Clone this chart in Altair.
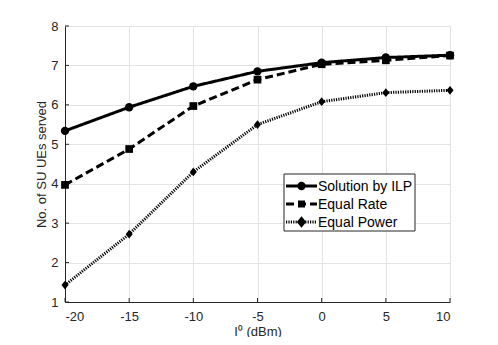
import altair as alt
import pandas as pd

x_vals = [-20, -15, -10, -5, 0, 5, 10]
ilp = [5.34, 5.94, 6.47, 6.85, 7.07, 7.20, 7.26]
equal_rate = [3.97, 4.88, 5.97, 6.64, 7.03, 7.13, 7.25]
equal_power = [1.43, 2.72, 4.30, 5.50, 6.08, 6.31, 6.37]
series_names = ["Solution by ILP", "Equal Rate", "Equal Power"]
x_ticks = [-20, -15, -10, -5, 0, 5, 10]
y_ticks = [1, 2, 3, 4, 5, 6, 7, 8]

W, H = 385, 276
FONT = "Liberation Sans"
AX = "#262626"

rows = []
for name, vals in zip(series_names, [ilp, equal_rate, equal_power]):
    for xv, yv in zip(x_vals, vals):
        rows.append({"series": name, "x": xv, "y": yv})
df = pd.DataFrame(rows)

dashes = [[1, 0], [8, 4], [1.2, 1.2]]
diamond = "M0,-1.25L1,0L0,1.25L-1,0Z"
shapes = ["circle", "square", diamond]
sizes = [70, 49, 88]

xs = alt.Scale(domain=[-20, 10], nice=False)
ys = alt.Scale(domain=[1, 8], nice=False)
xax = alt.Axis(values=x_ticks, title="I⁰ (dBm)", grid=True,
               labelExpr="datum.value + ''", labelOverlap=False)
yax = alt.Axis(values=y_ticks, title="No. of SU UEs served", grid=True,
               labelExpr="datum.value + ''", labelOverlap=False)

base = alt.Chart(df)
lines = base.mark_line(color="black", strokeWidth=3, strokeCap="butt").encode(
    x=alt.X("x:Q", scale=xs, axis=xax),
    y=alt.Y("y:Q", scale=ys, axis=yax),
    strokeDash=alt.StrokeDash("series:N", scale=alt.Scale(domain=series_names, range=dashes), legend=None),
    detail="series:N",
)
points = base.mark_point(filled=True, color="black", opacity=1).encode(
    x=alt.X("x:Q", scale=xs, axis=xax),
    y=alt.Y("y:Q", scale=ys, axis=yax),
    shape=alt.Shape("series:N", scale=alt.Scale(domain=series_names, range=shapes), legend=None),
    size=alt.Size("series:N", scale=alt.Scale(domain=series_names, range=sizes), legend=None),
)

# inward ticks
xt = alt.Chart(pd.DataFrame({"x": x_ticks})).mark_rule(color=AX, strokeWidth=1).encode(
    x=alt.X("x:Q", scale=xs, axis=xax), y=alt.value(H), y2=alt.value(H - 4))
yt = alt.Chart(pd.DataFrame({"y": y_ticks})).mark_rule(color=AX, strokeWidth=1).encode(
    y=alt.Y("y:Q", scale=ys, axis=yax), x=alt.value(0), x2=alt.value(4))

# legend
box = alt.Chart(pd.DataFrame({"a": [0]})).mark_rect(fill="white", stroke=AX, strokeWidth=1).encode(
    x=alt.value(219), x2=alt.value(350), y=alt.value(148), y2=alt.value(205))
leg_layers = [box]
row_y = [160, 178, 196]
for name, d, shp, sz, ry in zip(series_names, dashes, shapes, sizes, row_y):
    ld = pd.DataFrame({"label": [name]})
    c = alt.Chart(ld)
    leg_layers.append(c.mark_rule(color="black", strokeWidth=3, strokeDash=d, strokeCap="butt").encode(
        x=alt.value(221), x2=alt.value(252), y=alt.value(ry)))
    leg_layers.append(c.mark_point(filled=True, color="black", opacity=1, shape=shp, size=sz).encode(
        x=alt.value(236.5), y=alt.value(ry)))
    leg_layers.append(c.mark_text(align="left", baseline="middle", font=FONT, fontSize=14, color="black").encode(
        x=alt.value(253), y=alt.value(ry + 0.5), text="label:N"))

chart = alt.layer(lines, xt, yt, *leg_layers, points).properties(
    width=W, height=H,
    autosize=alt.AutoSizeParams(type="none"),
    padding={"left": 57, "top": 18, "right": 30, "bottom": 35},
).configure_view(stroke=None).configure_axis(
    domainColor=AX, domainWidth=1, tickSize=0,
    gridColor="#e3e3e3", gridWidth=1,
    labelFont=FONT, labelFontSize=13, labelColor=AX,
    titleFont=FONT, titleFontSize=13, titleColor=AX, titleFontWeight="normal",
).configure_axisX(labelPadding=8, titlePadding=2).configure_axisY(labelPadding=7, titlePadding=2)

chart.save("out.html", embed_options={"renderer": "svg", "actions": False})
